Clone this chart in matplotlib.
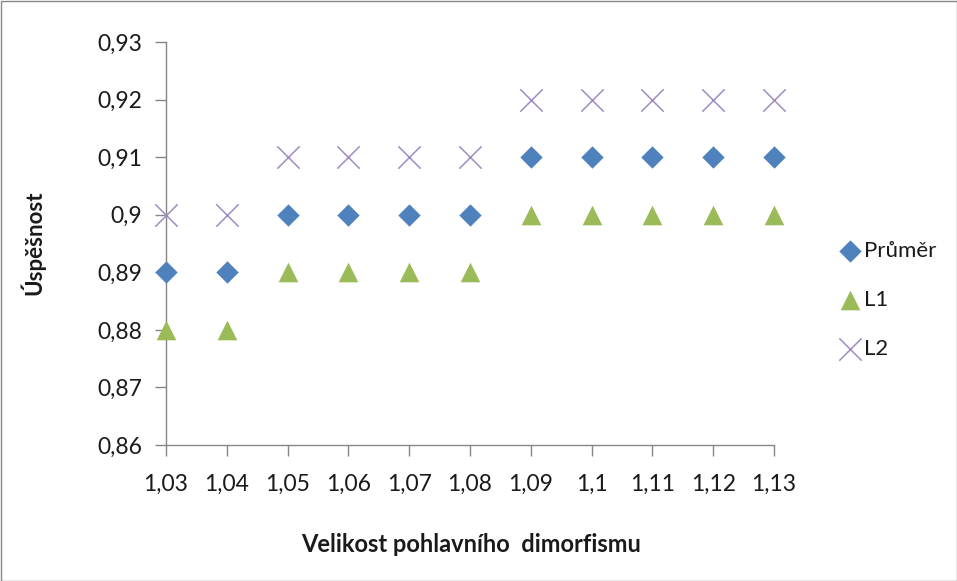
import matplotlib
matplotlib.use("Agg")
import matplotlib.pyplot as plt
from matplotlib.ticker import FixedLocator, FuncFormatter
from matplotlib.patches import Rectangle

x = [1.03, 1.04, 1.05, 1.06, 1.07, 1.08, 1.09, 1.10, 1.11, 1.12, 1.13]
prumer = [0.89, 0.89, 0.90, 0.90, 0.90, 0.90, 0.91, 0.91, 0.91, 0.91, 0.91]
l1 = [0.88, 0.88, 0.89, 0.89, 0.89, 0.89, 0.90, 0.90, 0.90, 0.90, 0.90]
l2 = [0.90, 0.90, 0.91, 0.91, 0.91, 0.91, 0.92, 0.92, 0.92, 0.92, 0.92]
yticks = [0.86, 0.87, 0.88, 0.89, 0.90, 0.91, 0.92, 0.93]

plt.rcParams['font.family'] = ['Lato', 'DejaVu Sans']

fig = plt.figure(figsize=(9.57, 5.81), dpi=100)
ax = fig.add_axes([166/957, 1-445/581, (774-166)/957, (445-42)/581])

ax.scatter(x, prumer, marker='D', s=130, color='#4F81BD', label='Průměr', zorder=3, linewidths=0)
ax.scatter(x, l1, marker='^', s=200, color='#9BBB59', label='L1', zorder=3, linewidths=0)
ax.scatter(x, l2, marker='x', s=260, color='#A08CC4', label='L2', zorder=3, linewidths=1.1)

ax.set_xlim(1.03, 1.13)
ax.set_ylim(0.86, 0.93)
ax.xaxis.set_major_locator(FixedLocator(x))
ax.yaxis.set_major_locator(FixedLocator(yticks))

def fmt(v, pos):
    s = f"{v:.2f}".rstrip('0').rstrip('.')
    return s.replace('.', ',')

ax.xaxis.set_major_formatter(FuncFormatter(fmt))
ax.yaxis.set_major_formatter(FuncFormatter(fmt))

for side in ['top', 'right']:
    ax.spines[side].set_visible(False)
for side in ['left', 'bottom']:
    ax.spines[side].set_color('#868686')
    ax.spines[side].set_linewidth(1.0)
ax.tick_params(axis='both', colors='#868686', labelcolor='#1a1a1a', length=8, width=1.0, labelsize=16.5, direction='out')
ax.tick_params(axis='x', pad=13)
ax.tick_params(axis='y', pad=9)

ax.set_ylabel('Úspěšnost', fontsize=16, fontweight='bold', color='#1a1a1a')
ax.set_xlabel('Velikost pohlavního  dimorfismu', fontsize=17, fontweight='bold', color='#1a1a1a')
ax.xaxis.label.set_verticalalignment('center')
ax.yaxis.label.set_verticalalignment('center')
ax.xaxis.set_label_coords((471-166)/608, -(545-445)/403)
ax.yaxis.set_label_coords(-(166-33)/608, (445-243)/403)

for c in ax.collections:
    c.set_clip_on(False)

leg = ax.legend(loc='upper left', bbox_to_anchor=(826/957, 1-230/581), bbox_transform=fig.transFigure,
                frameon=False, fontsize=16, labelspacing=1.3, handletextpad=0.05,
                handlelength=1.15, borderpad=0)
for t in leg.get_texts():
    t.set_color('#1a1a1a')

fig.patches.append(Rectangle((0.5/957, 0.5/581), 1-1/957, 1-1/581, transform=fig.transFigure,
                             fill=False, edgecolor='#868686', linewidth=1.0))

fig.savefig('out.png', dpi=100)
